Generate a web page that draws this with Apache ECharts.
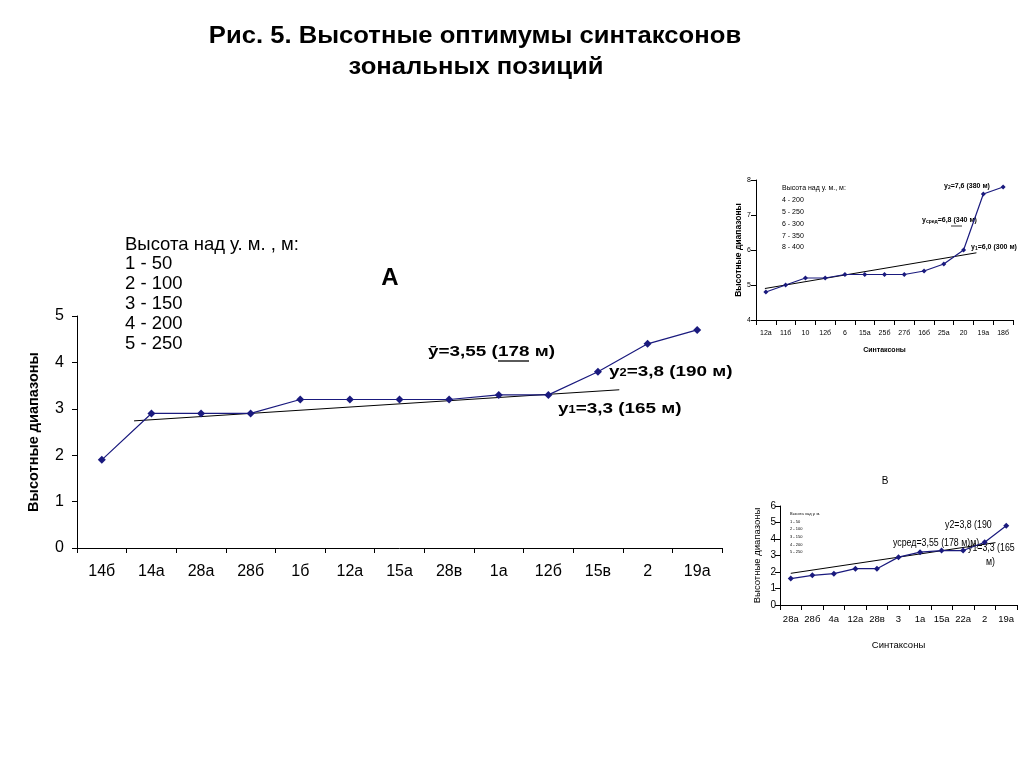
<!DOCTYPE html>
<html><head><meta charset="utf-8">
<script src="https://cdn.jsdelivr.net/npm/echarts@6/dist/echarts.min.js"></script>
<style>html,body{margin:0;padding:0;background:#fff}#c{width:1024px;height:768px}</style>
</head><body><div id="c"></div>
<script>
// ---- Chart A (main) ----
const catA = ['14б','14а','28а','28б','1б','12а','15а','28в','1а','12б','15в','2','19а'];
const valA = [1.9,2.9,2.9,2.9,3.2,3.2,3.2,3.2,3.3,3.3,3.8,4.4,4.7];
const trendA = [[0.65,2.74],[10.43,3.41]];
const legendA = ['Высота над у. м. , м:','1 - 50','2 - 100','3 - 150','4 - 200','5 - 250'];
// ---- Chart B (top right) ----
const catB = ['12а','11б','10','12б','6','15а','25б','27б','16б','25а','20','19а','18б'];
const valB = [4.8,5.0,5.2,5.2,5.3,5.3,5.3,5.3,5.4,5.6,6.0,7.6,7.8];
const trendB = [[-0.05,4.90],[10.65,5.92]];
const legendB = ['Высота над у. м., м:','4 - 200','5 - 250','6 - 300','7 - 350','8 - 400'];
// ---- Chart C (bottom right, "В") ----
const catC = ['28а','28б','4а','12а','28в','3','1а','15а','22а','2','19а'];
const valC = [1.6,1.8,1.9,2.2,2.2,2.9,3.2,3.3,3.3,3.8,4.8];
const trendC = [[0,1.92],[9.5,3.78]];
const legendC = ['Высота над у. м.','1 - 50','2 - 100','3 - 150','4 - 200','5 - 250'];

const F = 'Liberation Sans, Arial, sans-serif';
const FN = '"Liberation Sans Narrow", "Arial Narrow", "Liberation Sans", Arial, sans-serif';
const LINE = '#1a1a7e';

function catAxis(grid, cats, fs, margin, name, nameGap, nameFont, bold, family){
  return {type:'category', gridIndex:grid, data:cats, boundaryGap:true,
    axisLine:{show:true, onZero:false, lineStyle:{color:'#000',width:1}},
    axisTick:{show:true, length:5, alignWithLabel:false, lineStyle:{color:'#000'}},
    axisLabel:{fontSize:fs, fontFamily:family, color:'#000', margin:margin, interval:0},
    name:name, nameLocation:'middle', nameGap:nameGap,
    nameTextStyle:{fontSize:nameFont, fontFamily:family, fontWeight:bold?'bold':'normal', color:'#000'},
    splitLine:{show:false}};
}
function hidX(grid, n){ return {type:'value', gridIndex:grid, min:-0.5, max:n-0.5, show:false}; }
function valAxis(grid, min, max, fs, margin, name, nameGap, nameFont, bold, family){
  return {type:'value', gridIndex:grid, min:min, max:max, interval:1,
    axisLine:{show:true, onZero:false, lineStyle:{color:'#000',width:1}},
    axisTick:{show:true, length:5, inside:false, lineStyle:{color:'#000'}},
    axisLabel:{fontSize:fs, fontFamily:family, color:'#000', margin:margin},
    splitLine:{show:false},
    name:name, nameLocation:'middle', nameGap:nameGap,
    nameTextStyle:{fontSize:nameFont, fontFamily:family, fontWeight:bold?'bold':'normal', color:'#000'}};
}
function lineSeries(x, y, data, sym){
  return {type:'line', xAxisIndex:x, yAxisIndex:y, data:data, symbol:'diamond', symbolSize:sym,
    lineStyle:{color:LINE, width:1.2}, itemStyle:{color:LINE}, animation:false, z:3};
}
function trendSeries(x, y, data){
  return {type:'line', xAxisIndex:x, yAxisIndex:y, data:data, symbol:'none',
    lineStyle:{color:'#000', width:1}, animation:false, z:2};
}
function textLines(lines, x, y0, dy, fs, family, weight){
  return lines.map((t,i)=>({type:'text', x:x, y:y0+i*dy,
    style:{text:t, font:(weight||'normal')+' '+fs+'px '+family, fill:'#000'}}));
}
function cText(t, x, y){
  return {type:'text', x:x, y:y, scaleX:0.88, style:{text:t, font:'normal 10px '+F, fill:'#000'}};
}

const rA = {b:{fontSize:15.5, fontWeight:'bold', fontFamily:F, color:'#000'}, s:{fontSize:10.5, fontWeight:'bold', fontFamily:F, color:'#000', padding:[3,0,0,0]}};
const rB = {b:{fontSize:7, fontWeight:'bold', fontFamily:FN, color:'#000'}, s:{fontSize:5, fontWeight:'bold', fontFamily:FN, color:'#000', padding:[2,0,0,0]}};
const SX = 1.22;

const option = {
  backgroundColor:'#fff',
  animation:false,
  grid:[
    {left:77, top:316, width:645, height:232},
    {left:756, top:180, width:257, height:140},
    {left:780, top:506, width:237, height:99}
  ],
  xAxis:[
    catAxis(0, catA, 16, 16, '', 0, 16, true, F),
    hidX(0, catA.length),
    catAxis(1, catB, 7, 10, 'Синтаксоны', 27, 7, true, FN),
    hidX(1, catB.length),
    catAxis(2, catC, 9.5, 9, 'Синтаксоны', 35, 9.5, false, FN),
    hidX(2, catC.length)
  ],
  yAxis:[
    valAxis(0, 0, 5, 16, 13, 'Высотные диапазоны', 36, 14.5, true, F),
    valAxis(1, 4, 8, 7, 5, 'Высотные диапазоны', 13, 8.5, true, FN),
    valAxis(2, 0, 6, 10, 4, 'Высотные диапазоны', 18, 9.5, false, FN)
  ],
  series:[
    lineSeries(0, 0, valA, 8),
    trendSeries(1, 0, trendA),
    lineSeries(2, 1, valB, 5),
    trendSeries(3, 1, trendB),
    lineSeries(4, 2, valC, 6),
    trendSeries(5, 2, trendC)
  ],
  graphic:[
    {type:'text', x:475, y:25, scaleX:1.10, style:{text:'Рис. 5. Высотные оптимумы синтаксонов', font:'bold 23.3px '+F, fill:'#000', align:'center', verticalAlign:'top'}},
    {type:'text', x:476, y:56, scaleX:1.10, style:{text:'зональных позиций', font:'bold 23.3px '+F, fill:'#000', align:'center', verticalAlign:'top'}},
    {type:'text', x:390, y:266, style:{text:'А', font:'bold 24px '+F, fill:'#000', align:'center'}},
    ...textLines(legendA, 125, 235, 19.8, 18.5, F),
    {type:'text', x:428, y:344, scaleX:SX, style:{rich:rA, text:'{b|ȳ=3,55 (178 м)}'}},
    {type:'line', shape:{x1:498, y1:361, x2:529, y2:361}, style:{stroke:'#000', lineWidth:1.3}},
    {type:'text', x:609, y:364, scaleX:SX, style:{rich:rA, text:'{b|y}{s|2}{b|=3,8 (190 м)}'}},
    {type:'text', x:558, y:401, scaleX:SX, style:{rich:rA, text:'{b|y}{s|1}{b|=3,3 (165 м)}'}},
    // chart B
    ...textLines(legendB, 782, 185, 11.8, 7, FN),
    {type:'text', x:944, y:183, style:{rich:rB, text:'{b|y}{s|2}{b|=7,6 (380 м)}'}},
    {type:'text', x:922, y:217, style:{rich:rB, text:'{b|y}{s|сред}{b|=6,8 (340 м)}'}},
    {type:'line', shape:{x1:951, y1:226, x2:962, y2:226}, style:{stroke:'#000', lineWidth:0.8}},
    {type:'text', x:971, y:244, style:{rich:rB, text:'{b|y}{s|1}{b|=6,0 (300 м)}'}},
    // chart C
    {type:'text', x:885, y:476, style:{text:'В', font:'normal 10px '+F, fill:'#000', align:'center'}},
    ...textLines(legendC, 790, 512, 7.6, 4, F),
    cText('y2=3,8 (190', 945, 520),
    cText('усред=3,55 (178 м)м)', 893, 538),
    cText('y1=3,3 (165', 968, 543),
    cText('м)', 986, 557)
  ]
};
const chart = echarts.init(document.getElementById('c'), null, {renderer:'canvas'});
chart.setOption(option);
</script>
</body></html>
